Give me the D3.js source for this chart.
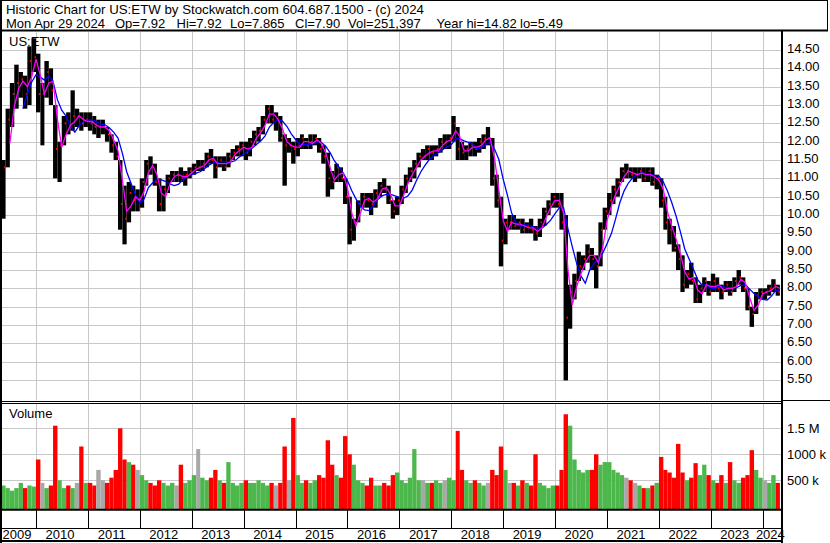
<!DOCTYPE html>
<html><head><meta charset="utf-8">
<script src="https://cdn.jsdelivr.net/npm/d3@7"></script>
<style>
body{margin:0;background:#fff;}
svg{display:block;font-family:"Liberation Sans",Arial,sans-serif;}
</style></head><body>
<svg id="c" width="830" height="543"></svg>
<script>
// ---- data (monthly, first bar = May 2009) ----
const firstYear = 2009, firstMonth = 4;
const high = [
11.5,12.9,13.6,14.1,13.9,13.8,14.6,14.82,
14.4,13.6,14.2,14.0,13.0,12.0,12.7,12.8,13.4,12.9,12.8,12.8,
12.8,12.7,12.6,12.6,12.4,12.2,12.0,11.5,10.8,10.9,10.8,10.7,
11.0,11.5,11.6,11.4,11.0,10.8,11.1,11.2,11.2,11.3,11.2,11.3,
11.4,11.5,11.5,11.7,11.8,11.6,11.6,11.6,11.7,11.8,11.9,12.0,
12.0,12.1,12.3,12.4,12.7,13.0,13.0,12.8,12.7,12.2,12.1,12.0,
12.1,12.2,12.1,12.2,12.2,12.1,11.9,11.7,11.2,11.4,11.3,11.0,
10.5,9.9,10.4,10.6,10.6,10.6,10.7,10.9,11.0,10.8,10.4,10.5,
10.8,11.1,11.3,11.5,11.7,11.8,11.9,11.9,11.9,12.1,12.2,12.2,
12.7,12.4,12.0,11.9,12.0,12.0,12.1,12.2,12.4,12.1,11.1,10.5,
9.9,10.0,10.0,9.9,9.9,9.8,9.9,9.7,9.9,10.2,10.4,10.6,
10.6,10.6,10.0,8.1,8.4,9.0,8.9,9.2,9.1,8.9,9.8,10.2,
10.6,10.8,11.0,11.3,11.4,11.3,11.3,11.3,11.3,11.3,11.3,11.1,
11.0,10.5,9.9,9.7,9.2,8.9,8.5,8.7,8.3,8.1,8.3,8.2,
8.4,8.3,8.1,8.2,8.2,8.3,8.5,8.3,8.0,7.5,7.9,8.0,
8.0,8.1,8.25,8.1];
const low = [
9.9,11.3,12.4,12.9,13.2,12.9,13.0,13.9,
12.8,11.9,13.2,13.0,11.0,10.9,11.9,12.2,12.3,12.4,12.3,12.4,
12.3,12.2,12.1,12.2,12.0,11.7,11.5,9.6,9.2,9.8,10.1,10.1,
10.2,10.8,11.1,10.8,10.1,10.1,10.6,10.9,10.9,10.9,10.8,11.0,
11.1,11.2,11.2,11.3,11.4,11.0,11.3,11.2,11.3,11.5,11.6,11.6,
11.5,11.6,11.9,12.0,12.2,12.5,12.5,12.3,12.0,10.8,11.7,11.4,
11.6,11.8,11.8,11.8,11.9,11.7,11.4,10.5,10.7,10.9,10.9,10.3,
9.2,9.3,9.8,10.2,10.2,10.0,10.2,10.5,10.6,10.3,9.9,10.0,
10.3,10.6,10.9,11.0,11.3,11.5,11.5,11.5,11.6,11.7,11.8,11.8,
12.0,11.5,11.5,11.5,11.6,11.6,11.7,11.8,11.9,10.8,10.2,8.6,
9.2,9.6,9.6,9.6,9.5,9.5,9.5,9.3,9.4,9.7,10.0,10.2,
10.2,9.6,5.49,6.9,7.7,8.2,8.5,8.7,8.5,8.0,8.6,9.6,
10.0,10.3,10.5,10.9,11.0,11.0,10.9,11.0,10.9,10.9,10.8,10.7,
10.2,9.6,9.2,9.0,8.5,7.9,8.0,8.1,7.6,7.6,7.9,7.8,
7.9,7.9,7.7,7.9,7.8,7.9,8.1,7.9,7.4,6.95,7.3,7.7,
7.7,7.8,7.9,7.8];
const close = [
11.3,12.6,13.3,13.6,13.7,13.3,14.2,14.3,
13.3,13.3,13.9,13.4,11.8,11.9,12.5,12.4,12.7,12.7,12.5,12.6,
12.5,12.4,12.4,12.4,12.2,11.9,11.6,10.3,9.9,10.6,10.4,10.4,
10.9,11.4,11.3,10.9,10.3,10.7,11.0,11.1,11.1,11.0,11.1,11.2,
11.3,11.3,11.4,11.6,11.5,11.3,11.5,11.3,11.6,11.7,11.8,11.9,
11.7,12.0,12.2,12.3,12.6,12.9,12.6,12.6,12.1,11.9,11.9,11.8,
11.9,12.1,11.9,12.0,12.1,11.8,11.6,11.0,10.9,11.3,11.0,10.5,
9.6,9.8,10.3,10.5,10.4,10.3,10.6,10.8,10.7,10.4,10.1,10.4,
10.7,11.0,11.2,11.4,11.6,11.6,11.8,11.7,11.8,12.0,12.0,12.1,
12.5,11.8,11.7,11.8,11.9,11.8,12.0,12.1,12.1,11.0,10.4,9.3,
9.8,9.8,9.7,9.8,9.6,9.7,9.6,9.5,9.8,10.1,10.3,10.5,
10.3,9.8,7.2,7.9,8.2,8.6,8.8,9.0,8.8,8.6,9.6,10.1,
10.4,10.7,10.9,11.2,11.2,11.1,11.1,11.2,11.0,11.2,10.9,11.0,
10.4,9.8,9.6,9.1,8.8,8.1,8.4,8.2,7.7,8.0,8.2,7.9,
8.2,8.0,7.9,8.1,7.9,8.2,8.3,8.0,7.5,7.3,7.8,7.9,
7.9,8.0,8.1,7.90];
const volumeK = [
400,350,300,350,450,350,400,380,
900,450,350,400,1550,500,350,400,350,450,1150,450,
450,400,700,500,450,550,700,1500,900,850,800,700,
600,500,450,400,500,450,400,450,400,800,450,500,
600,1100,550,500,550,700,500,450,850,450,400,450,
500,450,450,500,450,400,450,400,450,1150,500,1700,
600,450,500,450,500,600,550,1270,800,600,550,1350,
1000,800,500,450,400,550,400,400,450,400,600,650,
500,450,550,1100,500,500,450,450,500,450,500,550,
500,1450,700,500,450,500,450,400,450,700,600,1150,
700,450,450,400,500,450,400,1000,450,400,350,400,
400,700,1770,1550,900,700,650,700,700,1000,800,850,
850,700,650,600,550,500,450,400,350,350,400,450,
950,700,650,550,1200,650,500,550,830,600,800,600,
500,450,600,450,850,500,450,550,600,1080,700,550,
500,450,600,450];
const yearLabels = ["2009","2010","2011","2012","2013","2014","2015","2016","2017","2018","2019","2020","2021","2022","2023","2024"];
const priceTicks = [5.5,6,6.5,7,7.5,8,8.5,9,9.5,10,10.5,11,11.5,12,12.5,13,13.5,14,14.5];
const volTicks = [500000,1000000,1500000];
const volTickLabels = ["500 k","1000 k","1.5 M"];
const header1 = "Historic Chart for US:ETW by Stockwatch.com 604.687.1500 - (c) 2024";
const header2 = ["Mon Apr 29 2024","Op=7.92","Hi=7.92","Lo=7.865","Cl=7.90","Vol=251,397","Year hi=14.82","lo=5.49"];
const maShort = 2, maLong = 5;

// ---- layout ----
const L = 2, R = 782, PT = 32, PB = 400.5, VT = 404, VB = 509;
const svg = d3.select("#c");
const x = d3.scaleTime().domain([new Date(2010,0,1), new Date(2024,0,1)]).range([36, 762.7]);
const y = d3.scaleLinear().domain([4.95, 15]).range([400.2, 31.67]);
const yv = d3.scaleLinear().domain([0, 1500000]).range([506.3, 428.3]);
const grid = "#c8c8c8";

const months = close.map((c,i) => ({
  i, start: new Date(firstYear, firstMonth + i, 1), end: new Date(firstYear, firstMonth + i + 1, 1),
  h: high[i], l: low[i], c, v: volumeK[i]*1000,
  dir: i === 0 ? 1 : (c > close[i-1] ? 1 : (c < close[i-1] ? -1 : 0))
}));
function sma(n){ return months.map((d,i)=> i < n-1 ? null : {t: d.end, v: d3.mean(close.slice(i-n+1, i+1))}).filter(Boolean); }

svg.append("rect").attr("width",830).attr("height",543).attr("fill","#fff");

const defs = svg.append("defs");
defs.append("clipPath").attr("id","pc").append("rect").attr("x",L).attr("y",PT).attr("width",R-L).attr("height",PB-PT);
defs.append("clipPath").attr("id","vc").append("rect").attr("x",L).attr("y",VT).attr("width",R-L).attr("height",VB-VT);

const yearStarts = d3.range(2010, 2025).map(yr => new Date(yr,0,1));
const g = svg.append("g");
g.selectAll("line.vg").data(yearStarts).join("line").attr("class","vg")
  .attr("x1", d=>Math.round(x(d))+0.5).attr("x2", d=>Math.round(x(d))+0.5)
  .attr("y1", PT).attr("y2", PB).attr("stroke", grid);
g.selectAll("line.vg2").data(yearStarts).join("line").attr("class","vg2")
  .attr("x1", d=>Math.round(x(d))+0.5).attr("x2", d=>Math.round(x(d))+0.5)
  .attr("y1", VT).attr("y2", VB).attr("stroke", grid);
g.selectAll("line.hg").data(priceTicks).join("line").attr("class","hg")
  .attr("x1", L).attr("x2", R).attr("y1", d=>Math.round(y(d))+0.5).attr("y2", d=>Math.round(y(d))+0.5).attr("stroke", grid);
g.selectAll("line.hv").data(volTicks).join("line").attr("class","hv")
  .attr("x1", L).attr("x2", R).attr("y1", d=>Math.round(yv(d))+0.5).attr("y2", d=>Math.round(yv(d))+0.5).attr("stroke", grid);

// price bars
const pg = svg.append("g").attr("clip-path","url(#pc)");
pg.selectAll("rect.bar").data(months).join("rect").attr("class","bar")
  .attr("x", d=>x(d.start)).attr("width", d=>x(d.end)-x(d.start))
  .attr("y", d=>y(d.h)).attr("height", d=>Math.max(1, y(d.l)-y(d.h))).attr("fill","#000");
pg.selectAll("rect.cl").data(months).join("rect").attr("class","cl")
  .attr("x", d=>x(d.end)-1.5).attr("width", 1.5)
  .attr("y", d=>y(d.c)-1).attr("height", 2).attr("fill","#f00");
const line = d3.line().x(d=>x(d.t)).y(d=>y(d.v));
pg.append("path").datum(sma(maLong)).attr("d", line).attr("fill","none").attr("stroke","#0000ff").attr("stroke-width",1.3);
pg.append("path").datum(sma(maShort)).attr("d", line).attr("fill","none").attr("stroke","#ff00ff").attr("stroke-width",1.3);

// volume bars
const vg = svg.append("g").attr("clip-path","url(#vc)");
vg.selectAll("rect.vb").data(months).join("rect").attr("class","vb")
  .attr("x", d=>x(d.start)).attr("width", d=>x(d.end)-x(d.start))
  .attr("y", d=>yv(d.v)).attr("height", d=>VB - yv(d.v))
  .attr("fill", d=> d.dir>0 ? "#4cb84c" : (d.dir<0 ? "#ff0000" : "#a8a8a8"));

// frames
const blk = "#000";
function ln(x1,y1,x2,y2,w){ svg.append("line").attr("x1",x1).attr("y1",y1).attr("x2",x2).attr("y2",y2).attr("stroke",blk).attr("stroke-width",w||1); }
ln(0,0.5,828,0.5);
ln(827.5,0,827.5,31);
ln(1,0,1,543,2);
ln(0,30.5,828,30.5,2);
ln(782,31,782,543,2);
ln(782,400.5,830,400.5);
ln(0,401.5,782,401.5); ln(0,403.5,782,403.5);
ln(0,509.8,782,509.8,2);
ln(0,528.5,782,528.5);
ln(0,541,782,541,2);
svg.selectAll("line.yt").data(yearStarts).join("line").attr("class","yt")
  .attr("x1", d=>Math.round(x(d))+0.5).attr("x2", d=>Math.round(x(d))+0.5)
  .attr("y1", 510).attr("y2", 528).attr("stroke", blk);

// text
const txt = svg.append("g").attr("font-size", 13).attr("fill", "#000");
txt.append("text").attr("x",6).attr("y",13.5).attr("textLength",418).attr("lengthAdjust","spacingAndGlyphs").text(header1);
const h2x = [6,115,176.5,230,295,348,436.5,520];
txt.selectAll("text.h2").data(header2).join("text").attr("class","h2").attr("x",(d,i)=>h2x[i]).attr("y",27.5).text(d=>d);
txt.append("text").attr("x",9).attr("y",45.7).text("US:ETW");
txt.append("text").attr("x",9).attr("y",417.7).text("Volume");
txt.selectAll("text.pl").data(priceTicks).join("text").attr("class","pl").attr("x",787).attr("y",d=>y(d)+3).text(d=>d.toFixed(2));
txt.selectAll("text.vl").data(volTicks).join("text").attr("class","vl").attr("x",787).attr("y",d=>yv(d)+4.7).text((d,i)=>volTickLabels[i]);
const bounds = [2].concat(yearStarts.map(d=>x(d))).concat([782]);
txt.selectAll("text.yl").data(yearLabels).join("text").attr("class","yl")
  .attr("x",(d,i)=>(bounds[i]+bounds[i+1])/2 - 2).attr("y",539).attr("text-anchor","middle").text(d=>d);
</script>
</body></html>
